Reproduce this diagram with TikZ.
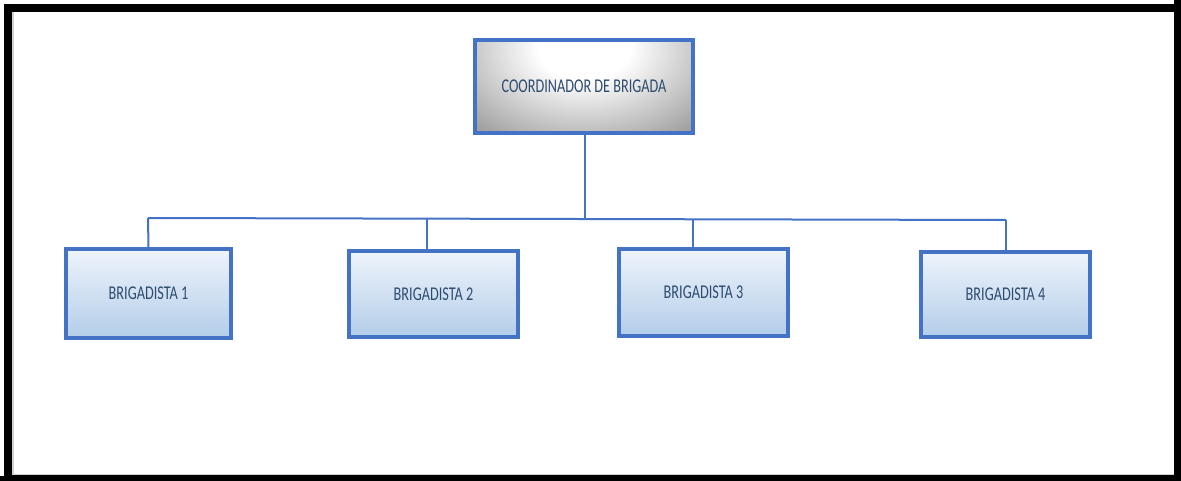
\documentclass[tikz,border=0pt]{standalone}
\usepackage{fontspec}
\setmainfont{Carlito}
\definecolor{bline}{HTML}{4472C4}
\definecolor{txt}{HTML}{2E4C70}
\definecolor{btop}{HTML}{EEF4FB}
\definecolor{bbot}{HTML}{B3CDE9}
\definecolor{gedge}{HTML}{858585}
\pgfdeclareradialshading{topsh}{\pgfpoint{0bp}{0bp}}{color(0bp)=(white); color(6bp)=(white); color(25bp)=(gedge); color(50bp)=(gedge)}
\newcommand{\cond}[1]{\scalebox{0.73}[1]{#1}}
\begin{document}
\begin{tikzpicture}[x=1pt,y=-1pt,
  brig/.style={draw=bline,line width=3.5pt,top color=btop,bottom color=bbot,inner sep=0pt,text=txt,font=\fontsize{19.5}{22}\selectfont},
  coord/.style={draw=bline,line width=3.5pt,inner sep=0pt,text=txt,font=\fontsize{19.5}{22}\selectfont},
  conn/.style={draw=bline,line width=2pt}]
\useasboundingbox (0,0) rectangle (1181,481);
\fill[white] (0,0) rectangle (1181,481);
% frame
\draw[gray!35,line width=2pt] (13,12) -- (13,476);
\draw[gray!35,line width=2pt] (12,475) -- (1175,475);
\draw[line width=8pt] (8,8) rectangle (1178,479);
\fill (1174,0) rectangle (1181,481);
\fill (0,476) rectangle (1181,481);
% top box shading
\begin{scope}
\clip (475,40) rectangle (693,133);
\fill[gedge] (475,40) rectangle (693,133);
\shade[shading=topsh] (584,48) ellipse[x radius=190pt,y radius=130pt];
\end{scope}
\node[coord,minimum width=218pt,minimum height=93pt] (c) at (584,86.5) {\cond{COORDINADOR DE BRIGADA}};
\node[brig,minimum width=165pt,minimum height=89pt] (b1) at (148.5,293.5) {\cond{BRIGADISTA 1}};
\node[brig,minimum width=169pt,minimum height=86pt] (b2) at (433.5,294) {\cond{BRIGADISTA 2}};
\node[brig,minimum width=169pt,minimum height=87pt] (b3) at (703.5,292.5) {\cond{BRIGADISTA 3}};
\node[brig,minimum width=169pt,minimum height=85pt] (b4) at (1005.5,294.5) {\cond{BRIGADISTA 4}};
\coordinate (hl) at (148,218);
\coordinate (hr) at (1006,220);
\coordinate (hm) at (585,219);
\draw[conn] (hl) -- (hr);
\draw[conn] (c.south -| hm) -- (hm);
\draw[conn] (hl) -- (b1.north);
\draw[conn] (427,218.7) -- (b2.north -| 427,0);
\draw[conn] (693,219.3) -- (b3.north -| 693,0);
\draw[conn] (hr) -- (b4.north -| hr);
\end{tikzpicture}
\end{document}
